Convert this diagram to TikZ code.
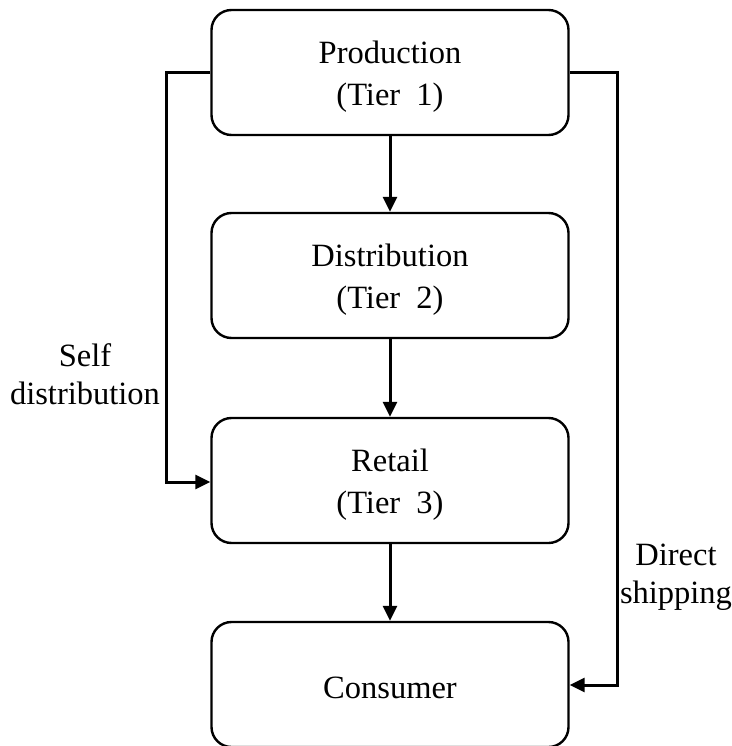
\documentclass[tikz,border=0pt]{standalone}
\usepackage{fontspec}
\setmainfont{Liberation Serif}
\usetikzlibrary{arrows.meta,positioning}
\begin{document}
\begin{tikzpicture}[x=1pt,y=-1pt,
  tierbox/.style={draw, line width=2.4pt, rounded corners=20pt, minimum width=357pt, minimum height=125pt, inner sep=0pt},
  boxtext/.style={align=center, inner sep=0pt, font=\fontsize{32.5}{42}\selectfont},
  conn/.style={line width=3pt, -{Triangle[length=15pt,width=14pt]}},
  lbl/.style={align=center, inner sep=0pt, font=\fontsize{32.5}{38}\selectfont}]
\useasboundingbox (0,0) rectangle (731,746);
\begin{scope}
\clip (0,0) rectangle (731,746);
\node[tierbox] (prod) at (390,72.5) {};
\node[tierbox] (dist) at (390,275.5) {};
\node[tierbox] (ret) at (390,480.5) {};
\node[tierbox] (cons) at (390,684.5) {};
\end{scope}
\node[boxtext] (prodt) at ([yshift=-4pt]prod.center) {Production\\(Tier\ \ 1)};
\node[boxtext] (distt) at ([yshift=-4pt]dist.center) {Distribution\\(Tier\ \ 2)};
\node[boxtext] (rett) at ([yshift=-4pt]ret.center) {Retail\\(Tier\ \ 3)};
\node[boxtext] (const) at ([yshift=-3pt]cons.center) {Consumer};
\coordinate (lt) at (166,73);
\coordinate (lb) at (166,482);
\coordinate (rt) at (617,73);
\coordinate (rb) at (617,685);
\draw[conn] (prod.south) -- (dist.north);
\draw[conn] (dist.south) -- (ret.north);
\draw[conn] (ret.south) -- (cons.north);
\draw[conn] (prod.west |- lt) -- (lt) -- (lb) -- (ret.west |- lb);
\draw[conn] (prod.east |- rt) -- (rt) -- (rb) -- (cons.east |- rb);
\node[lbl] (self) at (85,374) {Self\\distribution};
\node[lbl] (direct) at (676,577) {Direct\\shipping};
\end{tikzpicture}
\end{document}
